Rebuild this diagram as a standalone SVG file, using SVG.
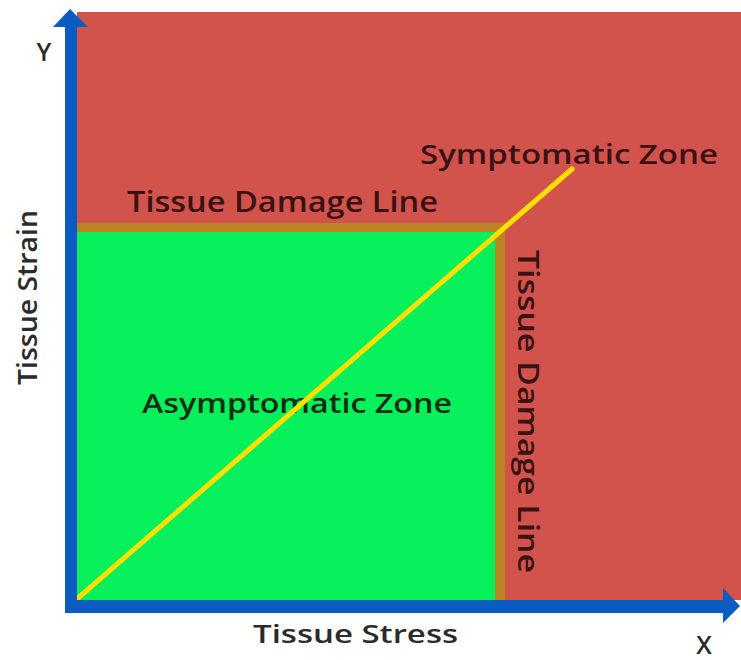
<svg xmlns="http://www.w3.org/2000/svg" width="741" height="660" viewBox="0 0 741 660">
<style>
.t{font-family:"Open Sans","Liberation Sans",sans-serif;font-weight:600}
.axis{fill:#0b5cc2}
</style>
<rect width="741" height="660" fill="#ffffff"/>
<g id="symptomatic-zone">
<rect x="77" y="12" width="664" height="588" fill="#d1534b"/>
<text class="t" x="420" y="164" font-size="27" fill="#3a1214" textLength="298" lengthAdjust="spacingAndGlyphs">Symptomatic Zone</text>
</g>
<g id="asymptomatic-zone">
<rect x="77" y="232" width="418" height="368" fill="#06f05c"/>
<text class="t" x="142" y="413" font-size="27" fill="#0c2e14" textLength="310" lengthAdjust="spacingAndGlyphs">Asymptomatic Zone</text>
</g>
<g id="tissue-damage-line">
<rect x="77" y="223" width="428" height="9" fill="#bb8422"/>
<rect x="495" y="223" width="10" height="377" fill="#bb8422"/>
<text class="t" x="127" y="212" font-size="28" fill="#3a1214" textLength="311" lengthAdjust="spacingAndGlyphs">Tissue Damage Line</text>
<text class="t" transform="translate(518,250) rotate(90)" x="0" y="0" font-size="28" fill="#3a1214" textLength="323" lengthAdjust="spacingAndGlyphs">Tissue Damage Line</text>
</g>
<g id="connectors">
<line x1="78" y1="598" x2="572" y2="169" stroke="#ffdf00" stroke-width="5" stroke-linecap="round"/>
</g>
<g id="y-axis">
<rect class="axis" x="65" y="24" width="12" height="589"/>
<polygon class="axis" points="53,27 70,9 88,27"/>
<text class="t" x="44" y="61" font-size="25" fill="#2b2b2b" text-anchor="middle">Y</text>
<text class="t" transform="translate(37,385) rotate(-90)" x="0" y="0" font-size="27" fill="#2b2b2b" textLength="175" lengthAdjust="spacingAndGlyphs">Tissue Strain</text>
</g>
<g id="x-axis">
<rect class="axis" x="65" y="600" width="660" height="13"/>
<polygon class="axis" points="723,588 740,606 723,623"/>
<text class="t" x="704" y="654" font-size="25" fill="#2b2b2b" text-anchor="middle">X</text>
<text class="t" x="253" y="643" font-size="26" fill="#2b2b2b" textLength="205" lengthAdjust="spacingAndGlyphs">Tissue Stress</text>
</g>
</svg>
